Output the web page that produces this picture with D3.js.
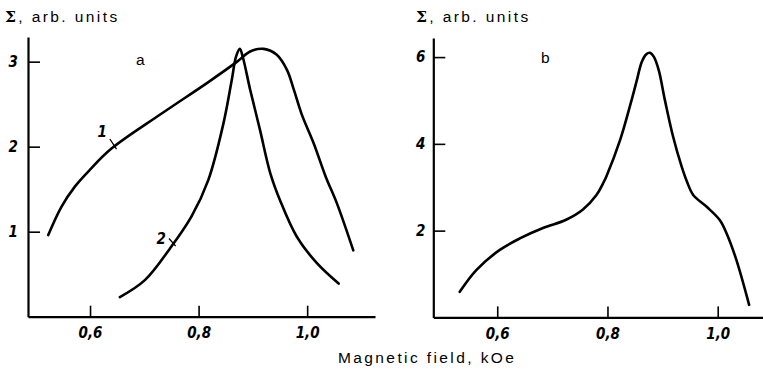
<!DOCTYPE html>
<html>
<head>
<meta charset="utf-8">
<script src="https://cdn.jsdelivr.net/npm/d3@7"></script>
<style>
  body { margin: 0; background: #fff; }
  svg { display: block; }
  .tick-label { font-family: "Liberation Sans Narrow", "DejaVu Sans Condensed", sans-serif; font-style: italic; font-weight: bold; font-size: 15px; }
  .caption { font-family: "Liberation Sans", Arial, sans-serif; font-size: 15.5px; letter-spacing: 2.4px; }
</style>
</head>
<body>
<div id="chart"></div>
<script>
// panel a, curve 1
const fieldA1 = [0.523, 0.547, 0.572, 0.600, 0.640, 0.732, 0.818, 0.871, 0.895, 0.920, 0.944, 0.963, 0.975, 0.990, 1.012, 1.034, 1.055, 1.085];
const sigmaA1 = [0.96, 1.29, 1.53, 1.73, 1.98, 2.39, 2.76, 3.00, 3.12, 3.15, 3.08, 2.90, 2.68, 2.38, 2.04, 1.65, 1.33, 0.78];
// panel a, curve 2
const fieldA2 = [0.655, 0.701, 0.747, 0.787, 0.818, 0.846, 0.861, 0.869, 0.876, 0.882, 0.895, 0.913, 0.932, 0.950, 0.981, 1.018, 1.058];
const sigmaA2 = [0.23, 0.43, 0.80, 1.18, 1.61, 2.28, 2.78, 3.06, 3.15, 3.04, 2.67, 2.20, 1.69, 1.37, 0.94, 0.63, 0.39];
// panel b
const fieldB = [0.532, 0.562, 0.604, 0.641, 0.683, 0.725, 0.755, 0.780, 0.792, 0.798, 0.823, 0.844, 0.853, 0.862, 0.870, 0.877, 0.884, 0.893, 0.904, 0.919, 0.9345, 0.9436, 0.9556, 0.980, 1.004, 1.016, 1.034, 1.057];
const sigmaB = [0.59, 1.09, 1.55, 1.82, 2.06, 2.25, 2.48, 2.82, 3.09, 3.25, 4.09, 5.02, 5.45, 5.88, 6.06, 6.10, 6.01, 5.70, 5.02, 4.17, 3.48, 3.15, 2.82, 2.55, 2.24, 1.94, 1.32, 0.29];

const xTicks = [0.6, 0.8, 1.0];
const yTicksA = [1, 2, 3];
const yTicksB = [2, 4, 6];

const svg = d3.select("#chart").append("svg")
  .attr("width", 763)
  .attr("height", 378);

const fmt = d => d3.format(".1f")(d).replace(".", ",");

function panel(o) {
  const x = d3.scaleLinear().domain(o.xDomain).range(o.xRange);
  const y = d3.scaleLinear().domain(o.yDomain).range(o.yRange);
  const g = svg.append("g");

  // axes, ticks point inward
  g.append("g")
    .attr("transform", `translate(0,${o.yRange[0]})`)
    .call(d3.axisBottom(x).tickValues(xTicks).tickSize(-11).tickSizeOuter(0).tickFormat(fmt).tickPadding(11))
    .call(a => a.select(".domain").attr("stroke-width", 2.2))
    .call(a => a.selectAll(".tick line").attr("stroke-width", 1.6))
    .call(a => a.selectAll(".tick text").attr("class", "tick-label").attr("fill", "#000"));

  g.append("g")
    .attr("transform", `translate(${o.xRange[0]},0)`)
    .call(d3.axisLeft(y).tickValues(o.yTicks).tickSize(-12).tickSizeOuter(0).tickFormat(d3.format("d")).tickPadding(o.yPad))
    .call(a => a.select(".domain").attr("stroke-width", 2.2))
    .call(a => a.selectAll(".tick line").attr("stroke-width", 1.6))
    .call(a => a.selectAll(".tick text").attr("class", "tick-label").attr("fill", "#000"));

  const line = d3.line()
    .x(d => x(d[0]))
    .y(d => y(d[1]))
    .curve(d3.curveCatmullRom.alpha(0.5));

  o.series.forEach(s => {
    g.append("path")
      .datum(d3.zip(s.x, s.y))
      .attr("d", line)
      .attr("fill", "none")
      .attr("stroke", "#000")
      .attr("stroke-width", 2.6)
      .attr("stroke-linecap", "round")
      .attr("stroke-linejoin", "round");
  });

  return { x, y, g };
}

const pa = panel({
  xDomain: [0.4857, 1.125], xRange: [28, 375],
  yDomain: [0, 3.29], yRange: [316.7, 37],
  yTicks: yTicksA, yPad: 10,
  series: [{ x: fieldA1, y: sigmaA1 }, { x: fieldA2, y: sigmaA2 }]
});

const pb = panel({
  xDomain: [0.484, 1.084], xRange: [433.3, 764],
  yDomain: [0, 6.44], yRange: [317.4, 38],
  yTicks: yTicksB, yPad: 8,
  series: [{ x: fieldB, y: sigmaB }]
});

// curve labels with leader strokes
const curveLabels = [
  { text: "1", lx: 0.6365, ly: 2.11, x1: 0.6365, y1: 2.09, x2: 0.6488, y2: 1.97 },
  { text: "2", lx: 0.7455, ly: 0.86, x1: 0.7455, y1: 0.92, x2: 0.7578, y2: 0.83 }
];
curveLabels.forEach(c => {
  pa.g.append("text")
    .attr("class", "tick-label")
    .attr("x", pa.x(c.lx) - 3)
    .attr("y", pa.y(c.ly))
    .attr("text-anchor", "end")
    .text(c.text);
  pa.g.append("line")
    .attr("x1", pa.x(c.x1)).attr("y1", pa.y(c.y1))
    .attr("x2", pa.x(c.x2)).attr("y2", pa.y(c.y2))
    .attr("stroke", "#000").attr("stroke-width", 1.3);
});

// captions
const title = (tx, ty) => {
  const t = svg.append("text").attr("class", "caption").attr("x", tx).attr("y", ty);
  t.append("tspan").attr("font-weight", "bold").attr("font-family", "DejaVu Serif, serif").text("Σ");
  t.append("tspan").text(", arb. units");
};
title(5, 22);
title(416, 22);

svg.append("text").attr("class", "caption").attr("x", 136).attr("y", 65).text("a");
svg.append("text").attr("class", "caption").attr("x", 541).attr("y", 63).text("b");

svg.append("text").attr("class", "caption")
  .attr("x", 338).attr("y", 363)
  .text("Magnetic field, kOe");
</script>
</body>
</html>
